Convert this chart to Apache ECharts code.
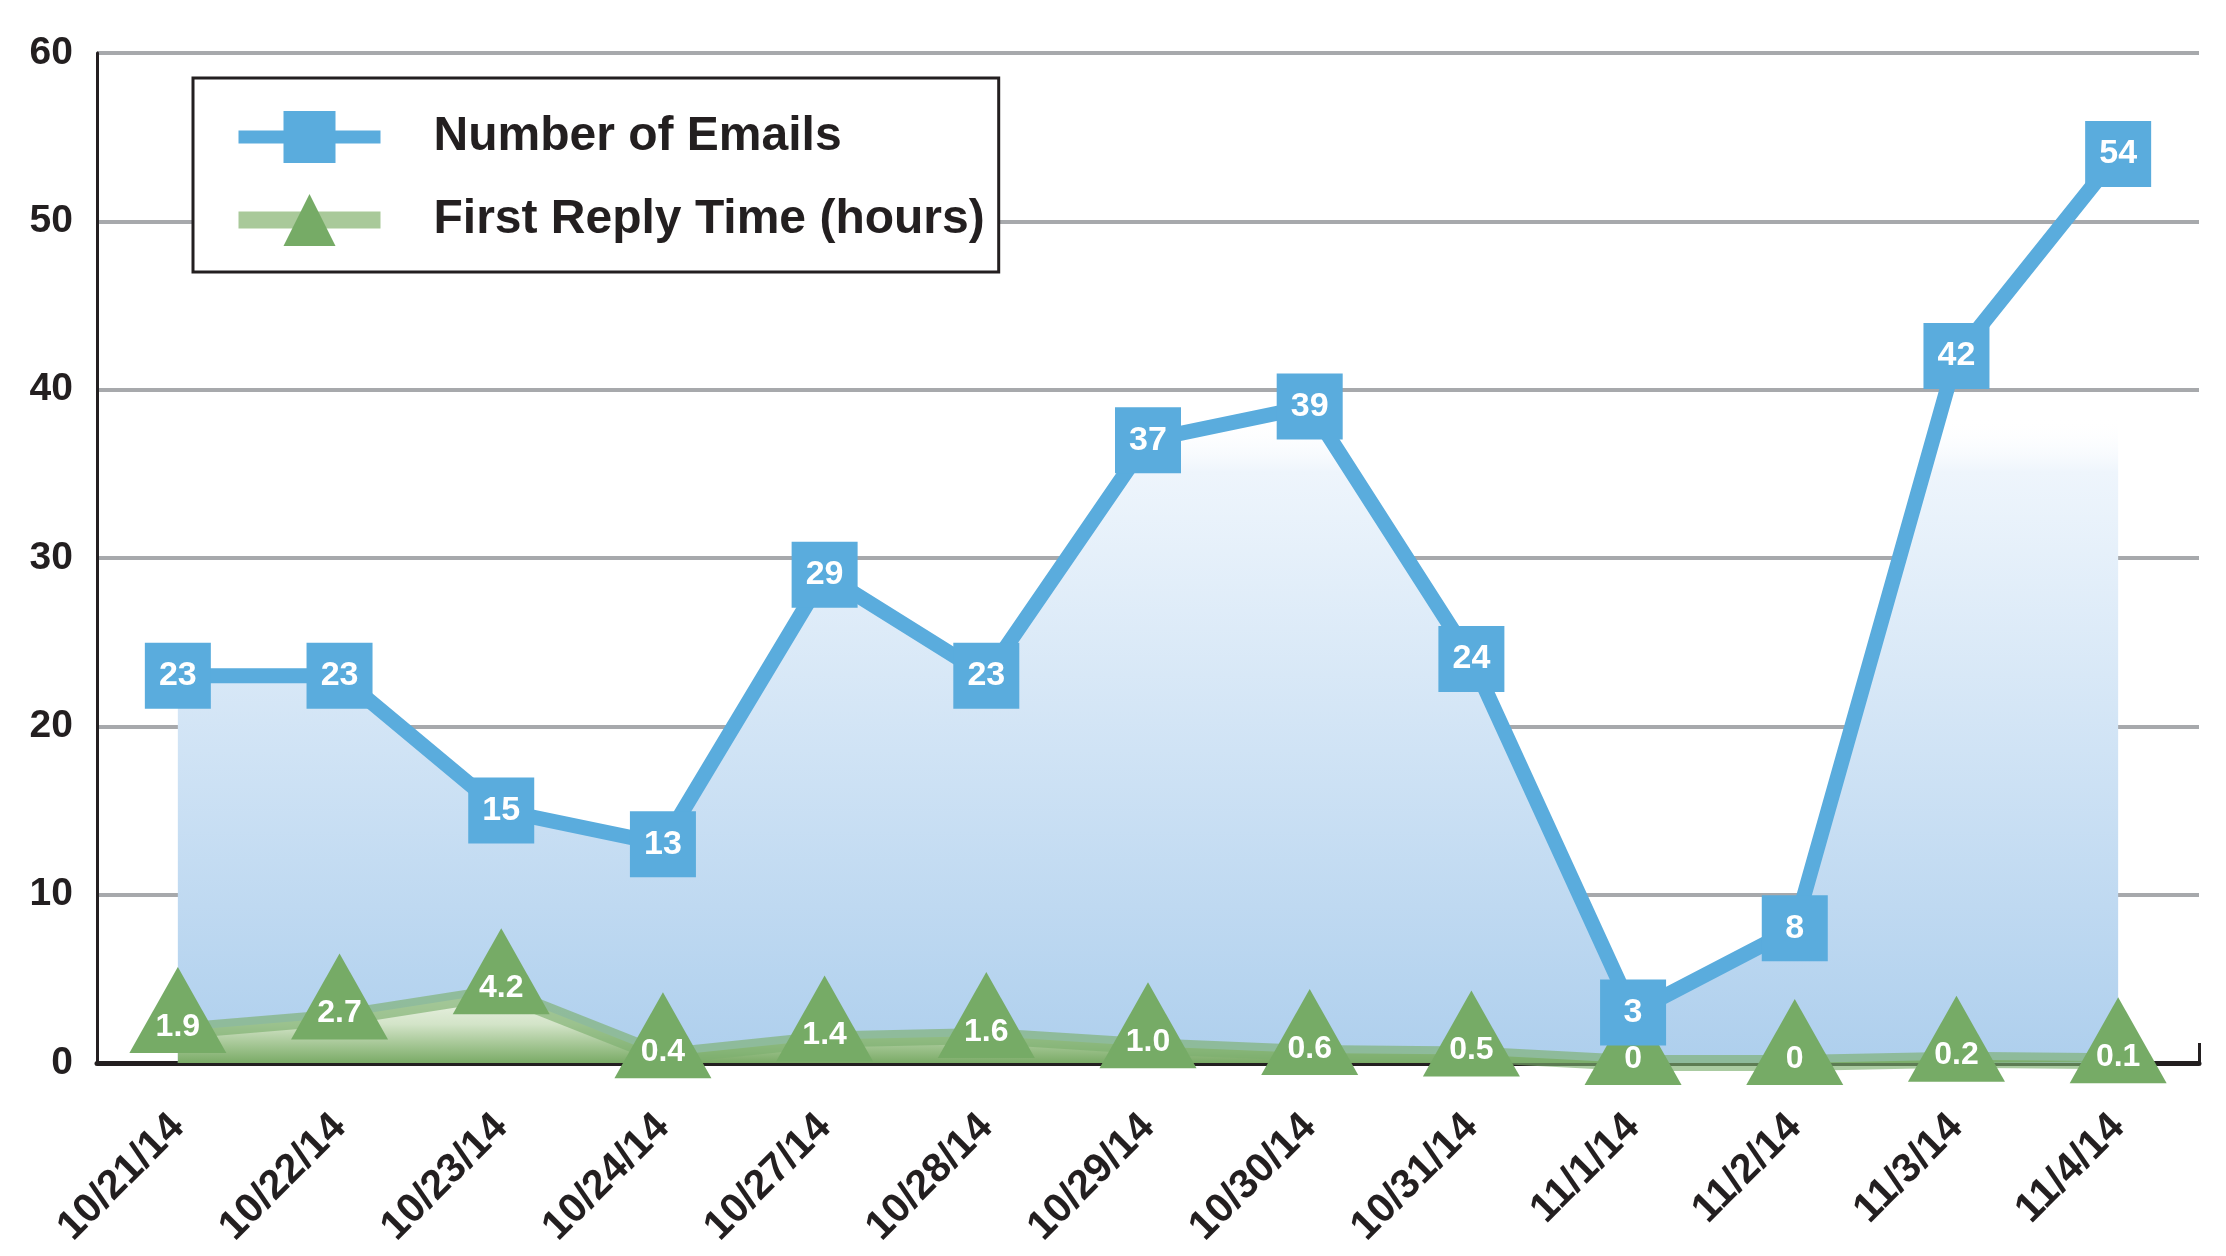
<!DOCTYPE html>
<html>
<head>
<meta charset="utf-8">
<script src="https://cdn.jsdelivr.net/npm/echarts@6/dist/echarts.min.js"></script>
<style>
html, body { margin: 0; padding: 0; background: #ffffff; }
#chart_emails { width: 2226px; height: 1256px; }
</style>
</head>
<body>
<div id="chart_emails"></div>
<script>
var dates = ['10/21/14','10/22/14','10/23/14','10/24/14','10/27/14','10/28/14','10/29/14',
             '10/30/14','10/31/14','11/1/14','11/2/14','11/3/14','11/4/14'];
var emails = [23, 23, 15, 13, 29, 23, 37, 39, 24, 3, 8, 42, 54];
var replyHours = [1.9, 2.7, 4.2, 0.4, 1.4, 1.6, 1.0, 0.6, 0.5, 0, 0, 0.2, 0.1];
var replyLabels = ['1.9','2.7','4.2','0.4','1.4','1.6','1.0','0.6','0.5','0','0','0.2','0.1'];
var yTicks = [0, 10, 20, 30, 40, 50, 60];

var font_main = 'Liberation Sans';
var col_blue = '#5aacdd';
var col_green = '#76ab66';

var echarts_emails = echarts.init(document.getElementById('chart_emails'));

var option_emails = {
    backgroundColor: '#ffffff',
    animation: false,
    textStyle: { fontFamily: font_main },
    grid: { left: 97, right: 27, top: 53, bottom: 193 },
    legend: {
        orient: 'vertical',
        left: 193,
        top: 78,
        padding: [33, 14, 26, 37],
        backgroundColor: '#ffffff',
        borderColor: '#231f20',
        borderWidth: 3,
        itemWidth: 142,
        itemHeight: 65,
        itemGap: 31,
        textStyle: {
            fontFamily: font_main, fontWeight: 'bold', fontSize: 48, color: '#231f20',
            padding: [0, 0, 0, 48]
        },
        data: [
            { name: 'Number of Emails', lineStyle: { width: 13, color: col_blue } },
            { name: 'First Reply Time (hours)', lineStyle: { width: 17, color: '#a9c99a' } }
        ]
    },
    xAxis: {
        type: 'category',
        data: dates,
        boundaryGap: true,
        axisLine: { lineStyle: { color: '#231f20', width: 5 } },
        axisTick: { show: true, inside: true, length: 20, interval: 0, lineStyle: { color: '#231f20', width: 3 } },
        axisLabel: {
            interval: 0, rotate: 45, margin: 58,
            fontFamily: font_main, fontWeight: 'bold', fontSize: 41, color: '#231f20'
        }
    },
    yAxis: {
        type: 'value',
        min: yTicks[0],
        max: yTicks[yTicks.length - 1],
        interval: 10,
        axisLine: { show: true, lineStyle: { color: '#231f20', width: 3 } },
        axisTick: { show: false },
        axisLabel: { margin: 24, fontFamily: font_main, fontWeight: 'bold', fontSize: 39, color: '#231f20' },
        splitLine: { lineStyle: { color: '#a7a9ac', width: 4 } }
    },
    series: [
        {
            // shaded area under the email line
            name: 'Emails area',
            type: 'line',
            data: emails,
            z: 1,
            silent: true,
            symbol: 'none',
            lineStyle: { width: 0 },
            areaStyle: {
                opacity: 1,
                color: {
                    type: 'linear', x: 0, y: 0, x2: 0, y2: 1,
                    colorStops: [
                        { offset: 0, color: 'rgba(255,255,255,0)' },
                        { offset: 0.29, color: 'rgba(255,255,255,0)' },
                        { offset: 0.35, color: '#eef5fc' },
                        { offset: 1, color: '#aecfed' }
                    ]
                }
            }
        },
        {
            name: 'First Reply Time (hours)',
            type: 'line',
            data: replyHours,
            z: 2,
            clip: false,
            symbol: 'triangle',
            symbolSize: [97, 86],
            symbolOffset: [0, -21],
            itemStyle: { color: col_green },
            lineStyle: { width: 16, color: 'rgba(125,175,110,0.65)' },
            areaStyle: {
                opacity: 1,
                color: {
                    type: 'linear', x: 0, y: 0, x2: 0, y2: 1,
                    colorStops: [
                        { offset: 0, color: '#f0f5ea' },
                        { offset: 0.45, color: '#d3e4c8' },
                        { offset: 1, color: '#7aab66' }
                    ]
                }
            },
            label: {
                show: true,
                position: 'inside',
                offset: [0, 17],
                color: '#ffffff',
                fontFamily: font_main,
                fontWeight: 'bold',
                fontSize: 32,
                formatter: function(p){ return replyLabels[p.dataIndex]; }
            }
        },
        {
            name: 'Number of Emails',
            type: 'line',
            data: emails,
            z: 3,
            clip: false,
            symbol: 'rect',
            symbolSize: 66,
            itemStyle: { color: col_blue },
            lineStyle: { width: 15, color: col_blue },
            label: {
                show: true,
                position: 'inside',
                color: '#ffffff',
                fontFamily: font_main,
                fontWeight: 'bold',
                fontSize: 34
            }
        }
    ]
};

echarts_emails.setOption(option_emails);
</script>
</body>
</html>
